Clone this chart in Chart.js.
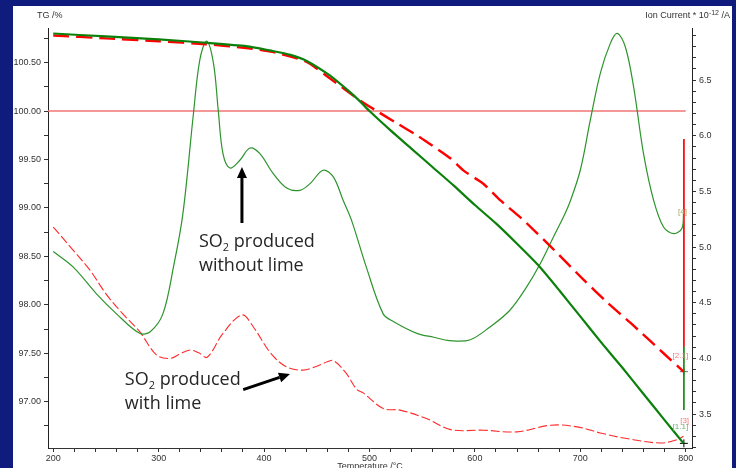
<!DOCTYPE html>
<html>
<head>
<meta charset="utf-8">
<script src="https://cdn.jsdelivr.net/npm/chart.js@4/dist/chart.umd.min.js"></script>
<style>
  html, body { margin: 0; padding: 0; background: #0f1c7d; width: 736px; height: 468px; overflow: hidden; }
  #panel { position: absolute; left: 13px; top: 6px; width: 719px; height: 462px; background: #fff; }
</style>
</head>
<body>
<div id="panel"><canvas id="tg" width="719" height="462"></canvas></div>
<script>
// TG curves (left axis, %)
var tgNoLimeT = [200, 250, 300, 345, 383, 408, 425, 440, 462, 481, 491, 500, 520, 540, 560, 580, 600, 620, 640, 660, 680, 700, 720, 740, 760, 780, 798];
var tgNoLime  = [100.80, 100.77, 100.74, 100.705, 100.67, 100.62, 100.58, 100.52, 100.37, 100.20, 100.10, 100.00, 99.80, 99.61, 99.42, 99.23, 99.03, 98.84, 98.63, 98.41, 98.15, 97.88, 97.61, 97.35, 97.08, 96.81, 96.57];

var tgLimeT = [200, 250, 300, 345, 383, 408, 440, 462, 491, 507, 525, 545, 560, 577, 590, 608, 624, 646, 672, 703, 725, 748, 779, 798];
var tgLime  = [100.78, 100.75, 100.72, 100.69, 100.65, 100.61, 100.51, 100.34, 100.11, 100.00, 99.88, 99.75, 99.64, 99.51, 99.38, 99.25, 99.08, 98.875, 98.60, 98.26, 98.03, 97.81, 97.50, 97.31];

// SO2 ion current (right axis, 10^-12 A)
var ionNoLimeT = [200, 219, 241, 260, 282, 292, 304, 314, 323, 333, 339, 345.5, 352, 356.5, 361, 367.6, 377, 386.6, 396, 408.7, 421.5, 434, 443.6, 456, 465.7, 475, 483, 497, 513, 523, 545, 561, 576, 595, 614, 633, 649, 662, 675, 684, 690, 700, 709.5, 719, 728.5, 735, 742.7, 750.6, 760, 769.6, 779, 788.6, 796.5, 798];
var ionNoLime  = [4.96, 4.82, 4.58, 4.40, 4.225, 4.24, 4.40, 4.82, 5.30, 6.20, 6.68, 6.85, 6.65, 6.23, 5.84, 5.71, 5.78, 5.89, 5.84, 5.66, 5.53, 5.51, 5.57, 5.69, 5.63, 5.42, 5.24, 4.82, 4.40, 4.33, 4.225, 4.19, 4.16, 4.165, 4.28, 4.43, 4.64, 4.85, 5.10, 5.27, 5.40, 5.69, 6.14, 6.56, 6.83, 6.92, 6.80, 6.44, 5.84, 5.42, 5.18, 5.12, 5.17, 5.33];

var ionLimeT = [200, 219, 235, 250, 266, 282, 298, 311, 320, 330, 338, 346, 361, 379, 390, 406, 421, 437, 450, 460, 466, 478, 488, 494, 513, 529, 554, 577, 608, 640, 672, 697, 719, 744, 776, 792, 798];
var ionLime  = [5.18, 4.97, 4.79, 4.58, 4.40, 4.24, 4.03, 4.00, 4.04, 4.075, 4.05, 4.01, 4.225, 4.39, 4.28, 4.05, 3.925, 3.895, 3.93, 3.97, 3.98, 3.865, 3.72, 3.69, 3.55, 3.535, 3.46, 3.36, 3.355, 3.34, 3.40, 3.385, 3.33, 3.28, 3.24, 3.27, 3.30];

// reference line and end-of-run markers
var refLineT = [195, 800];
var refLine  = [100, 100];
var stepT = 798.3;
var stepRed   = [5.97, 4.105];
var stepGreen = [4.105, 3.536];

function pts(xs, ys) {
  return xs.map(function (x, i) { return { x: x, y: ys[i] }; });
}

function half(v) { return Math.abs(v * 2 - Math.round(v * 2)) < 1e-6; }

var tickFont = { family: 'Liberation Sans, Arial, sans-serif', size: 9 };

var extras = {
  id: 'extras',
  afterDraw: function (chart) {
    var ctx = chart.ctx, x = chart.scales.x, y1 = chart.scales.y1;
    ctx.save();
    // axis titles
    ctx.fillStyle = '#333';
    ctx.font = '9px Liberation Sans, Arial, sans-serif';
    ctx.textBaseline = 'middle';
    ctx.textAlign = 'left';
    ctx.fillText('TG /%', 24, 10);

    var a = 'Ion Current * 10', b = '-12', c = ' /A';
    ctx.font = '9px Liberation Sans, Arial, sans-serif';
    var wa = ctx.measureText(a).width, wc = ctx.measureText(c).width;
    ctx.font = '7px Liberation Sans, Arial, sans-serif';
    var wb = ctx.measureText(b).width;
    var sx = 717 - wa - wb - wc;
    ctx.font = '9px Liberation Sans, Arial, sans-serif';
    ctx.fillText(a, sx, 10);
    ctx.fillText(c, sx + wa + wb, 10);
    ctx.font = '7px Liberation Sans, Arial, sans-serif';
    ctx.fillText(b, sx + wa, 7);

    ctx.font = '9px Liberation Sans, Arial, sans-serif';
    ctx.textAlign = 'center';
    ctx.textBaseline = 'top';
    ctx.fillText('Temperature /\u00B0C', 357, 456);

    // step labels
    ctx.font = '8px Liberation Sans, Arial, sans-serif';
    ctx.textBaseline = 'middle';
    ctx.fillStyle = '#a4a85a';
    ctx.fillText('[4]', x.getPixelForValue(797), y1.getPixelForValue(5.32));
    ctx.fillStyle = '#f07a7a';
    ctx.fillText('[2.1]', x.getPixelForValue(795), y1.getPixelForValue(4.02));
    ctx.fillText('[3]', x.getPixelForValue(799), y1.getPixelForValue(3.44));
    ctx.fillStyle = '#6fb06f';
    ctx.fillText('[1.1]', x.getPixelForValue(795), y1.getPixelForValue(3.383));

    // annotations
    function so2(left, base, second) {
      ctx.fillStyle = '#262626';
      ctx.textAlign = 'left';
      ctx.textBaseline = 'alphabetic';
      ctx.font = '18px Open Sans, sans-serif';
      ctx.fillText('SO', left, base);
      var w1 = ctx.measureText('SO').width;
      ctx.font = '11px Open Sans, sans-serif';
      ctx.fillText('2', left + w1, base + 4);
      var w2 = ctx.measureText('2').width;
      ctx.font = '18px Open Sans, sans-serif';
      ctx.fillText(' produced', left + w1 + w2, base);
      ctx.fillText(second, left, base + 24);
    }
    function arrow(t0, v0, t1, v1) {
      var x0 = x.getPixelForValue(t0), yy0 = y1.getPixelForValue(v0);
      var x1 = x.getPixelForValue(t1), yy1 = y1.getPixelForValue(v1);
      var ang = Math.atan2(yy1 - yy0, x1 - x0), L = 11, W = 5;
      ctx.strokeStyle = '#000';
      ctx.fillStyle = '#000';
      ctx.lineWidth = 3;
      ctx.beginPath();
      ctx.moveTo(x0, yy0);
      ctx.lineTo(x1 - Math.cos(ang) * L, yy1 - Math.sin(ang) * L);
      ctx.stroke();
      ctx.beginPath();
      ctx.moveTo(x1, yy1);
      ctx.lineTo(x1 - Math.cos(ang) * L - Math.sin(ang) * W, yy1 - Math.sin(ang) * L + Math.cos(ang) * W);
      ctx.lineTo(x1 - Math.cos(ang) * L + Math.sin(ang) * W, yy1 - Math.sin(ang) * L - Math.cos(ang) * W);
      ctx.closePath();
      ctx.fill();
    }
    so2(x.getPixelForValue(338.2), y1.getPixelForValue(5.0), 'without lime');
    arrow(379, 5.216, 379, 5.72);
    so2(x.getPixelForValue(267.9), y1.getPixelForValue(3.76), 'with lime');
    arrow(380.2, 3.72, 424.6, 3.86);
    ctx.restore();
  }
};

new Chart(document.getElementById('tg'), {
  type: 'line',
  data: {
    datasets: [
      { data: pts(tgNoLimeT, tgNoLime), yAxisID: 'y', borderColor: '#0b800b', borderWidth: 2.2, tension: 0.2 },
      { data: pts(tgLimeT, tgLime), yAxisID: 'y', borderColor: '#ff0000', borderWidth: 2.4, borderDash: [16, 7], tension: 0.2 },
      { data: pts(ionNoLimeT, ionNoLime), yAxisID: 'y1', borderColor: '#2d942d', borderWidth: 1.2, tension: 0.35 },
      { data: pts(ionLimeT, ionLime), yAxisID: 'y1', borderColor: '#ff2a2a', borderWidth: 1.1, borderDash: [9, 3], tension: 0.35 },
      { data: pts([stepT, stepT], stepRed), yAxisID: 'y1', borderColor: '#ff0000', borderWidth: 1 },
      { data: pts([stepT, stepT], stepGreen), yAxisID: 'y1', borderColor: '#1a8a1a', borderWidth: 1 },
      { data: pts([stepT], [tgLime[tgLime.length - 1]]), yAxisID: 'y', showLine: false, pointStyle: 'cross', pointRadius: 4, borderColor: '#666', borderWidth: 1 },
      { data: pts([stepT], [tgNoLime[tgNoLime.length - 1]]), yAxisID: 'y', showLine: false, pointStyle: 'cross', pointRadius: 4, borderColor: '#000', borderWidth: 1 },
      { data: pts(refLineT, refLine), yAxisID: 'y', borderColor: '#f07575', borderWidth: 1.5 }
    ]
  },
  options: {
    responsive: false,
    animation: false,
    devicePixelRatio: 1,
    events: [],
    layout: { padding: { top: 22, left: 0, right: 0, bottom: 0 } },
    elements: { point: { radius: 0 }, line: { fill: false } },
    plugins: { legend: { display: false }, tooltip: { enabled: false } },
    scales: {
      x: {
        type: 'linear', position: 'bottom', min: 195, max: 806,
        afterFit: function (s) { s.height = 20; },
        border: { color: '#333', width: 1 },
        grid: { drawOnChartArea: false, tickLength: 4, color: '#333' },
        ticks: {
          stepSize: 20, includeBounds: false, autoSkip: false, maxRotation: 0, padding: 1,
          font: tickFont, color: '#333',
          callback: function (v) { return Math.round(v) % 100 === 0 ? String(Math.round(v)) : ''; }
        }
      },
      y: {
        type: 'linear', position: 'left', min: 96.522, max: 100.857,
        afterFit: function (s) { s.width = 35; },
        border: { color: '#222', width: 1 },
        grid: { drawOnChartArea: false, tickLength: 4, color: '#333' },
        ticks: {
          stepSize: 0.25, includeBounds: false, autoSkip: false, padding: 3,
          font: tickFont, color: '#333',
          callback: function (v) { return half(v) ? v.toFixed(2) : ''; }
        }
      },
      y1: {
        type: 'linear', position: 'right', min: 3.195, max: 6.968,
        afterFit: function (s) { s.width = 40; },
        border: { color: '#222', width: 1 },
        grid: { drawOnChartArea: false, tickLength: 4, color: '#333' },
        ticks: {
          stepSize: 0.1, includeBounds: false, autoSkip: false, padding: 3,
          font: tickFont, color: '#333',
          callback: function (v) { return half(v) ? v.toFixed(1) : ''; }
        }
      }
    }
  },
  plugins: [extras]
});
</script>
</body>
</html>
